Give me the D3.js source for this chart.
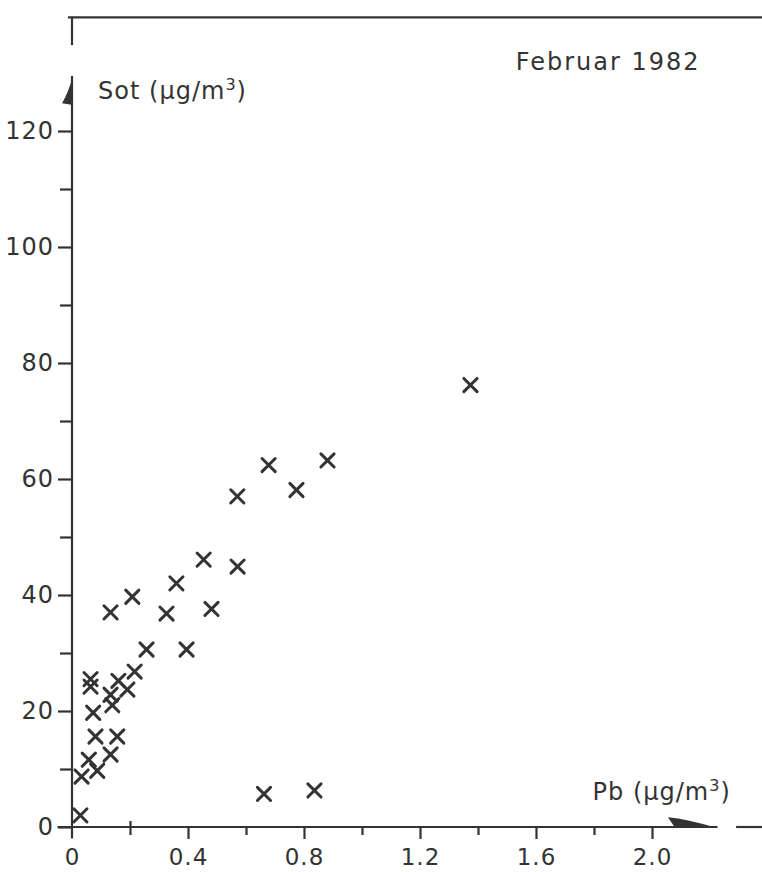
<!DOCTYPE html>
<html><head><meta charset="utf-8">
<script src="https://cdn.jsdelivr.net/npm/d3@7"></script>
<style>
html,body{margin:0;padding:0;background:#fff;}
svg{display:block;}
text{font-family:"DejaVu Sans",sans-serif;fill:#333;}
</style></head>
<body>
<script>
// Data: Pb (µg/m³) vs Sot (µg/m³), Februar 1982
const pbValues  = [0.029,0.033,0.058,0.087,0.133,0.081,0.156,0.073,0.064,0.064,0.139,0.133,0.160,0.191,0.216,0.257,0.395,0.133,0.208,0.326,0.481,0.360,0.454,0.571,0.570,0.678,0.774,0.881,1.374,0.662,0.836];
const sotValues = [2.0,8.7,11.6,9.7,12.5,15.6,15.6,19.7,24.2,25.5,21.0,22.8,25.2,23.7,26.8,30.6,30.6,37.0,39.7,36.8,37.6,42.0,46.1,44.9,57.0,62.4,58.1,63.2,76.2,5.7,6.3];
const xTickValues = [0,0.2,0.4,0.6,0.8,1.0,1.2,1.4,1.6,1.8,2.0];
const xTickLabels = ["0","","0.4","","0.8","","1.2","","1.6","","2.0"];
const yTickValues = [0,10,20,30,40,50,60,70,80,90,100,110,120];
const yTickLabels = ["0","","20","","40","","60","","80","","100","","120"];
const titleText = "Februar 1982";
const yTitle = "Sot (\u03bcg/m";
const xTitle = "Pb (\u03bcg/m";

const W = 762, H = 872, ink = "#333";
const svg = d3.select("body").append("svg").attr("width", W).attr("height", H);
svg.append("rect").attr("width", W).attr("height", H).attr("fill", "#fff");

const x = d3.scaleLinear().domain([0, 2.0]).range([72, 652]);
const y = d3.scaleLinear().domain([0, 120]).range([827, 131]);

// frame line on top
svg.append("line").attr("x1", x(-0.014)).attr("x2", W).attr("y1", y(139.6)).attr("y2", y(139.6))
  .attr("stroke", ink).attr("stroke-width", 2.2);
svg.append("line").attr("x1", x(0)).attr("x2", x(0)).attr("y1", y(139.6)).attr("y2", y(134.8))
  .attr("stroke", ink).attr("stroke-width", 2.2);

// y axis line
svg.append("line").attr("x1", x(0)).attr("x2", x(0)).attr("y1", y(-2)).attr("y2", y(129.5))
  .attr("stroke", ink).attr("stroke-width", 2.2);
// y arrow (half head)
const ya = d3.path();
ya.moveTo(x(0) + 1, y(129.5)); ya.lineTo(x(0) + 1, y(124.5));
ya.lineTo(x(0) - 10, y(124.8)); ya.quadraticCurveTo(x(0) - 4, y(126.5), x(0) + 1, y(129.5)); ya.closePath();
svg.append("path").attr("d", ya.toString()).attr("fill", ink);

// x axis line
svg.append("line").attr("x1", x(-0.05)).attr("x2", x(2.226)).attr("y1", y(0)).attr("y2", y(0))
  .attr("stroke", ink).attr("stroke-width", 2.2);
svg.append("line").attr("x1", x(2.29)).attr("x2", W).attr("y1", y(0)).attr("y2", y(0))
  .attr("stroke", ink).attr("stroke-width", 2.2);
const xa = d3.path();
xa.moveTo(x(2.226), y(0) + 1); xa.lineTo(x(2.08), y(0) + 1);
xa.lineTo(x(2.055), y(1.7)); xa.quadraticCurveTo(x(2.12), y(1.4), x(2.226), y(0) + 1); xa.closePath();
svg.append("path").attr("d", xa.toString()).attr("fill", ink);

// y axis ticks
const gy = svg.append("g").attr("transform", `translate(${x(0)},0)`)
  .call(d3.axisLeft(y).tickValues(yTickValues).tickSize(14).tickPadding(4)
    .tickFormat((d, i) => yTickLabels[i]));
gy.select(".domain").remove();
gy.selectAll(".tick line").attr("stroke", ink).attr("stroke-width", 2.2)
  .attr("x2", (d, i) => yTickLabels[i] ? -14 : -12);
gy.selectAll(".tick text").attr("font-size", 24).attr("fill", ink)
  .style("font-family", "DejaVu Sans").attr("letter-spacing", 1);

// x axis ticks
const gx = svg.append("g").attr("transform", `translate(0,${y(0)})`)
  .call(d3.axisBottom(x).tickValues(xTickValues).tickSize(12).tickPadding(10)
    .tickFormat((d, i) => xTickLabels[i]));
gx.select(".domain").remove();
gx.selectAll(".tick line").attr("stroke", ink).attr("stroke-width", 2.2)
  .attr("y1", (d, i) => i === 1 ? -6 : 0).attr("y2", (d, i) => d === 0 ? 0 : (xTickLabels[i] ? 12 : 8));
gx.selectAll(".tick text").attr("font-size", 23).attr("fill", ink)
  .style("font-family", "DejaVu Sans").attr("letter-spacing", 1);

// markers
const pts = pbValues.map((p, i) => ({ pb: p, sot: sotValues[i] }));
const sym = d3.symbol().type(d3.symbolX).size(115);
svg.append("g").selectAll("path").data(pts).join("path")
  .attr("transform", d => `translate(${x(d.pb)},${y(d.sot)})`)
  .attr("d", sym).attr("fill", "none").attr("stroke", ink).attr("stroke-width", 3)
  .attr("stroke-linecap", "round");

// titles
const t1 = svg.append("text").attr("x", x(0.09)).attr("y", y(125.5)).attr("font-size", 24)
  .attr("letter-spacing", 1).text(yTitle);
t1.append("tspan").attr("font-size", 16).attr("dy", -9).text("3");
t1.append("tspan").attr("dy", 9).text(")");

const t2 = svg.append("text").attr("x", x(1.795)).attr("y", y(4.6)).attr("font-size", 24)
  .attr("letter-spacing", 1).text(xTitle);
t2.append("tspan").attr("font-size", 16).attr("dy", -9).text("3");
t2.append("tspan").attr("dy", 9).text(")");

svg.append("text").attr("x", x(1.53)).attr("y", y(130.5)).attr("font-size", 24)
  .attr("letter-spacing", 2).text(titleText);
</script>
</body></html>
